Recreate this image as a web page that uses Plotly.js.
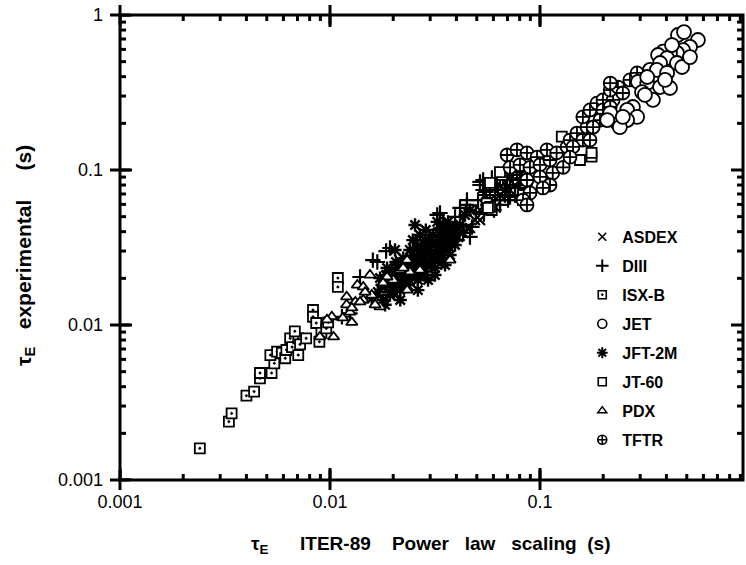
<!DOCTYPE html>
<html>
<head>
<meta charset="utf-8">
<script src="https://cdn.plot.ly/plotly-3.0.1.min.js"></script>
<style>html,body{margin:0;padding:0;background:#fff;overflow:hidden;}#chart{width:746px;height:565px;}</style>
</head>
<body>
<div id="chart"></div>
<script>
// ---- data (tau_E ITER-89 power law scaling [s], tau_E experimental [s]) ----
const deviceNames = ['ASDEX','DIII','ISX-B','JET','JFT-2M','JT-60','PDX','TFTR'];

const asdexX = [0.0353,0.0407,0.0430,0.0464,0.0490,0.0518,0.0547,0.0578,0.0611,0.0645,0.0681,0.0720,0.0760,0.0381,0.0299,0.0268,0.0240,0.0216,0.0334,0.0518];
const asdexY = [0.0410,0.0370,0.0393,0.0423,0.0476,0.0552,0.0595,0.0640,0.0577,0.0690,0.0743,0.0743,0.0800,0.0442,0.0305,0.0255,0.0233,0.0210,0.0328,0.0476];

const diiiX = [0.0114,0.01245,0.0139,0.0160,0.0168,0.0185,0.0193,0.0324,0.0327,0.0334,0.0345,0.0394,0.0403,0.0416,0.0430,0.0430,0.0449,0.0449,0.0464,0.0474,0.0518,0.0518,0.0536,0.0536,0.0578,0.0611,0.0645,0.0681,
               0.0547,0.0578,0.0611,0.0645,0.0681,0.0720,0.0736,0.0760,0.0803,0.0631,0.0705,0.0785,0.0565,0.0849,
               0.0507,0.0553,0.0590,0.0624,0.0667,0.0697,0.0743,0.0777,0.0820,0.0867,0.0604,0.0541,0.0495,0.0645,0.0720];
const diiiY = [0.0113,0.0119,0.0204,0.0262,0.0255,0.0300,0.0314,0.0513,0.0410,0.0528,0.0463,0.0498,0.0353,0.0569,0.0442,0.0393,0.0640,0.0595,0.0370,0.0429,0.0800,0.0838,0.0743,0.0862,0.0690,0.0743,0.0640,0.0800,
               0.0690,0.0800,0.0640,0.0862,0.0690,0.0800,0.0929,0.0690,0.0862,0.0743,0.0640,0.0766,0.0595,0.0800,
               0.0640,0.0721,0.0887,0.0800,0.0902,0.0766,0.0862,0.0970,0.0887,0.0743,0.0552,0.0520,0.0536,0.0595,0.0670];

const isxbX = [0.0024,0.0033,0.0034,0.0040,0.00435,0.00464,0.00464,0.00527,0.00543,0.0052,0.0056,0.0059,0.00612,0.0062,0.00646,0.0066,0.00706,0.00706,0.0072,0.0077,0.0068,0.0083,0.0083,0.0086,0.0091,0.0096,0.0098,0.0089,0.0109,0.0109];
const isxbY = [0.0016,0.00238,0.00269,0.0035,0.00372,0.00453,0.0049,0.0049,0.00566,0.0064,0.00673,0.0066,0.0061,0.0069,0.0082,0.0072,0.0064,0.0082,0.0075,0.0082,0.0091,0.0125,0.0113,0.0103,0.0089,0.0095,0.0104,0.0078,0.0201,0.0176];

const jetX = [0.454,0.485,0.565,0.518,0.480,0.449,0.416,0.386,0.365,0.403,0.373,0.449,0.475,0.334,0.360,0.403,0.293,0.324,0.373,0.416,0.306,0.345,0.277,0.260,0.290,0.260,0.233,0.240,0.216,0.209,0.248,0.324,0.394,0.518,0.425,0.316];
const jetY = [0.743,0.776,0.690,0.622,0.594,0.569,0.569,0.580,0.552,0.528,0.490,0.490,0.462,0.442,0.442,0.423,0.370,0.364,0.343,0.338,0.318,0.283,0.255,0.244,0.220,0.210,0.201,0.189,0.233,0.210,0.220,0.398,0.381,0.535,0.640,0.305];

const jft2mX = [0.0158,0.0169,0.0179,0.0183,0.0193,0.0189,0.0204,0.0211,0.0197,0.0216,0.0223,0.0228,0.0240,0.0235,0.0245,0.0254,0.0262,0.0268,0.0274,0.0283,0.0293,0.0299,0.0306,0.0316,0.0327,0.0334,0.0341,0.0353,0.0361,0.0373,0.0381,0.0365,0.0334,0.0309,0.0283,0.0262,0.0240,0.0223,0.0206,0.0187,0.0173,0.0254,0.0268,0.0286,0.0324,0.0394,0.0353,0.0293,0.0262,0.0216,0.0183,0.0316,0.0394,0.0248,0.0204,0.0416,0.0440,0.0464,
                0.0177,0.0185,0.0195,0.0202,0.0209,0.0218,0.0225,0.0233,0.0238,0.0243,0.0251,0.0257,0.0265,0.0271,0.0277,0.0281,0.0290,0.0296,0.0303,0.0313,0.0320,0.0330,0.0338,0.0345,0.0356,0.0369,0.0377,0.0389,0.0403,0.0349];
const jft2mY = [0.0149,0.0163,0.0145,0.0176,0.0156,0.0195,0.0181,0.0210,0.0226,0.0168,0.0195,0.0244,0.0210,0.0181,0.0262,0.0226,0.0195,0.0283,0.0244,0.0210,0.0305,0.0255,0.0328,0.0233,0.0283,0.0353,0.0255,0.0314,0.0398,0.0283,0.0353,0.0463,0.0423,0.0381,0.0353,0.0314,0.0305,0.0270,0.0255,0.0233,0.0201,0.0442,0.0381,0.0410,0.0463,0.0410,0.0244,0.0195,0.0168,0.0145,0.0135,0.0210,0.0328,0.0353,0.0305,0.0442,0.0513,0.0552,
                0.0181,0.0210,0.0189,0.0163,0.0233,0.0184,0.0216,0.0255,0.0195,0.0233,0.0279,0.0207,0.0255,0.0324,0.0220,0.0270,0.0240,0.0343,0.0283,0.0262,0.0343,0.0305,0.0381,0.0283,0.0353,0.0318,0.0393,0.0364,0.0423,0.0436];

const jt60X = [0.0589,0.0557,0.0830,0.0668,0.0578,0.0659,0.0578,0.0565,0.0645,0.127,0.155,0.176,0.176];
const jt60Y = [0.0552,0.0610,0.0640,0.0950,0.0578,0.0930,0.0825,0.0570,0.0970,0.164,0.116,0.122,0.129];

const pdxX = [0.0155,0.0135,0.0144,0.0120,0.0132,0.0120,0.0158,0.0173,0.0164,0.0144,0.01245,0.0127,0.0115,0.0233,0.0268,0.0233,0.0200,0.0187,0.0216,0.0102,0.00895,0.0104,0.00968,0.0147,0.0179,0.0240,0.0223,0.0139,0.0127,0.0373];
const pdxY = [0.0210,0.0181,0.0176,0.0152,0.0141,0.0135,0.0156,0.0131,0.0135,0.0145,0.0121,0.0104,0.0111,0.0262,0.0226,0.0168,0.0195,0.0204,0.0226,0.0113,0.00838,0.00838,0.0108,0.0163,0.0187,0.0220,0.0233,0.0141,0.0129,0.0262];

const tftrX = [0.0697,0.0777,0.0867,0.0968,0.0720,0.0803,0.0896,0.100,0.1116,0.108,0.120,0.115,0.100,0.0867,0.1116,0.1033,0.0896,0.0830,0.0867,0.1346,0.139,0.150,0.1675,0.160,0.173,0.1867,0.1995,0.1995,0.223,0.216,0.235,0.248,0.193,0.179,0.160,0.1436,0.129,0.139,0.173,0.216,0.268,0.290,0.216];
const tftrY = [0.125,0.135,0.129,0.121,0.104,0.108,0.104,0.108,0.116,0.135,0.129,0.0957,0.0902,0.0862,0.0800,0.0766,0.0711,0.0640,0.0595,0.141,0.156,0.173,0.189,0.220,0.244,0.270,0.283,0.244,0.283,0.328,0.343,0.314,0.210,0.189,0.156,0.141,0.104,0.121,0.156,0.255,0.381,0.423,0.364];

const majorTickVals = [0.001,0.01,0.1,1];
const majorTickText = ['0.001','0.01','0.1','1'];
const minorTickVals = [0.002,0.003,0.004,0.005,0.006,0.007,0.008,0.009,0.02,0.03,0.04,0.05,0.06,0.07,0.08,0.09,0.2,0.3,0.4,0.5,0.6,0.7,0.8,0.9];

// ---- styling ----
const BLK = '#000';
const FONT = 'Liberation Sans, Arial, Helvetica, sans-serif';
const W = 746, H = 565, M = {l: 120, r: 3, t: 15, b: 85};
const plotW = W - M.l - M.r, plotH = H - M.t - M.b;
const xRange = [-3, -0.0333], yRange = [-3, 0];

const mk = (symbol, size, fill, lw) => ({symbol: symbol, size: size, color: fill, line: {color: BLK, width: lw}});
const styles = {
  'ASDEX':  mk('x-thin-open', 10, BLK, 2.2),
  'DIII':   mk('cross-thin-open', 11, BLK, 2.2),
  'ISX-B':  mk('square-dot', 10, '#fff', 1.8),
  'JET':    mk('circle', 14, '#fff', 1.8),
  'JFT-2M': mk('asterisk-open', 11, BLK, 2.4),
  'JT-60':  mk('square', 10, '#fff', 1.8),
  'PDX':    mk('triangle-up', 10, '#fff', 1.8),
  'TFTR':   mk('circle-cross', 13, '#fff', 1.8)
};
const legendStyles = {
  'ASDEX':  mk('x-thin-open', 8, BLK, 1.6),
  'DIII':   mk('cross-thin-open', 9, BLK, 2),
  'ISX-B':  mk('square-dot', 8, '#fff', 1.6),
  'JET':    mk('circle', 9, '#fff', 1.6),
  'JFT-2M': mk('asterisk-open', 9, BLK, 2),
  'JT-60':  mk('square', 8, '#fff', 1.6),
  'PDX':    mk('triangle-up', 8, '#fff', 1.4),
  'TFTR':   mk('circle-cross', 9, '#fff', 1.6)
};
const series = {
  'ASDEX': [asdexX, asdexY], 'DIII': [diiiX, diiiY], 'ISX-B': [isxbX, isxbY], 'JET': [jetX, jetY],
  'JFT-2M': [jft2mX, jft2mY], 'JT-60': [jt60X, jt60Y], 'PDX': [pdxX, pdxY], 'TFTR': [tftrX, tftrY]
};
const drawOrder = ['ISX-B','JFT-2M','DIII','ASDEX','PDX','JT-60','TFTR','JET'];

const traces = drawOrder.map(n => ({
  type: 'scatter', mode: 'markers', name: n, x: series[n][0], y: series[n][1],
  marker: styles[n], showlegend: false, hoverinfo: 'skip'
}));

// ---- tick marks built from the tick arrays (inside segments + outward crossing parts) ----
const pxX = plotW / (xRange[1] - xRange[0]);   // pixels per decade
const pxY = plotH / (yRange[1] - yRange[0]);
const xFromLeft = (px) => Math.pow(10, xRange[0] + px / pxX);
const xFromRight = (px) => Math.pow(10, xRange[1] - px / pxX);
const yFromBottom = (px) => Math.pow(10, yRange[0] + px / pxY);
const yFromTop = (px) => Math.pow(10, yRange[1] - px / pxY);
const inRange = (v, r) => { const l = Math.log10(v); return l >= r[0] - 1e-9 && l <= r[1] + 1e-9; };

const tickSegX = [], tickSegY = [];
function addInside(vals, len) {
  vals.filter(v => inRange(v, xRange)).forEach(v => {
    tickSegX.push(v, v, null, v, v, null);
    tickSegY.push(yFromBottom(0), yFromBottom(len), null, yFromTop(len), yFromTop(0), null);
  });
  vals.filter(v => inRange(v, yRange)).forEach(v => {
    tickSegX.push(xFromLeft(0), xFromLeft(len), null, xFromRight(len), xFromRight(0), null);
    tickSegY.push(v, v, null, v, v, null);
  });
}
addInside(majorTickVals, 12);
addInside(minorTickVals, 6);
traces.push({type: 'scatter', mode: 'lines', x: tickSegX, y: tickSegY, connectgaps: false,
             line: {color: BLK, width: 3}, showlegend: false, hoverinfo: 'skip'});

const xOut = majorTickVals.filter(v => inRange(v, xRange));
const yOut = majorTickVals.filter(v => inRange(v, yRange));
traces.push({type: 'scatter', mode: 'markers', cliponaxis: false, showlegend: false, hoverinfo: 'skip',
             x: xOut.concat(xOut), y: xOut.map(() => Math.pow(10, yRange[0])).concat(xOut.map(() => Math.pow(10, yRange[1]))),
             marker: {symbol: 'line-ns', size: 14.3, color: BLK, line: {color: BLK, width: 3}}});
traces.push({type: 'scatter', mode: 'markers', cliponaxis: false, showlegend: false, hoverinfo: 'skip',
             x: yOut.map(() => Math.pow(10, xRange[0])), y: yOut,
             marker: {symbol: 'line-ew', size: 14.3, color: BLK, line: {color: BLK, width: 3}}});

deviceNames.forEach((n, i) => traces.push({
  type: 'scatter', mode: 'markers', name: n, x: [null], y: [null],
  marker: legendStyles[n], showlegend: true, legendgroup: 'g' + i, hoverinfo: 'skip'
}));

const shapes = [{type: 'rect', xref: 'paper', yref: 'paper', x0: 0, x1: 1, y0: 0, y1: 1, layer: 'above',
                 line: {color: BLK, width: 3}, fillcolor: 'rgba(0,0,0,0)'}];

function axis(rng, standoff) {
  return {
    type: 'log', range: rng.slice(), showgrid: false, zeroline: false, fixedrange: true,
    showline: false, ticks: '', tickmode: 'array', tickvals: majorTickVals.slice(), ticktext: majorTickText.slice(),
    tickfont: {family: FONT, size: 18, color: BLK}, ticklabelstandoff: standoff
  };
}

const layout = {
  width: W, height: H,
  margin: {l: M.l, r: M.r, t: M.t, b: M.b, pad: 0},
  paper_bgcolor: '#fff', plot_bgcolor: '#fff',
  font: {family: FONT, color: BLK},
  showlegend: true,
  legend: {x: 0.742, xanchor: 'left', y: 0.5595, yanchor: 'top', tracegroupgap: 5.2,
           font: {family: FONT, size: 16, weight: 'bold', color: BLK}},
  xaxis: axis(xRange, 9),
  yaxis: axis(yRange, 16),
  shapes: shapes,
  annotations: [
    {xref: 'paper', yref: 'paper', x: 0.4976, y: -0.14, xanchor: 'center', yanchor: 'middle', showarrow: false,
     text: 'τ<sub>E</sub>\u00a0\u00a0\u00a0\u00a0\u00a0\u00a0ITER-89\u00a0\u00a0\u00a0\u00a0Power\u00a0\u00a0\u00a0law\u00a0\u00a0\u00a0scaling\u00a0\u00a0(s)',
     font: {family: FONT, size: 19, weight: 'bold', color: BLK}},
    {xref: 'paper', yref: 'paper', x: -0.1525, y: 0.484, xanchor: 'center', yanchor: 'middle', showarrow: false, textangle: -90,
     text: 'τ<sub>E</sub>\u00a0\u00a0\u00a0experimental\u00a0\u00a0\u00a0\u00a0\u00a0(s)',
     font: {family: FONT, size: 21, weight: 'bold', color: BLK}}
  ]
};

Plotly.newPlot('chart', traces, layout, {staticPlot: true, displayModeBar: false});
</script>
</body>
</html>
